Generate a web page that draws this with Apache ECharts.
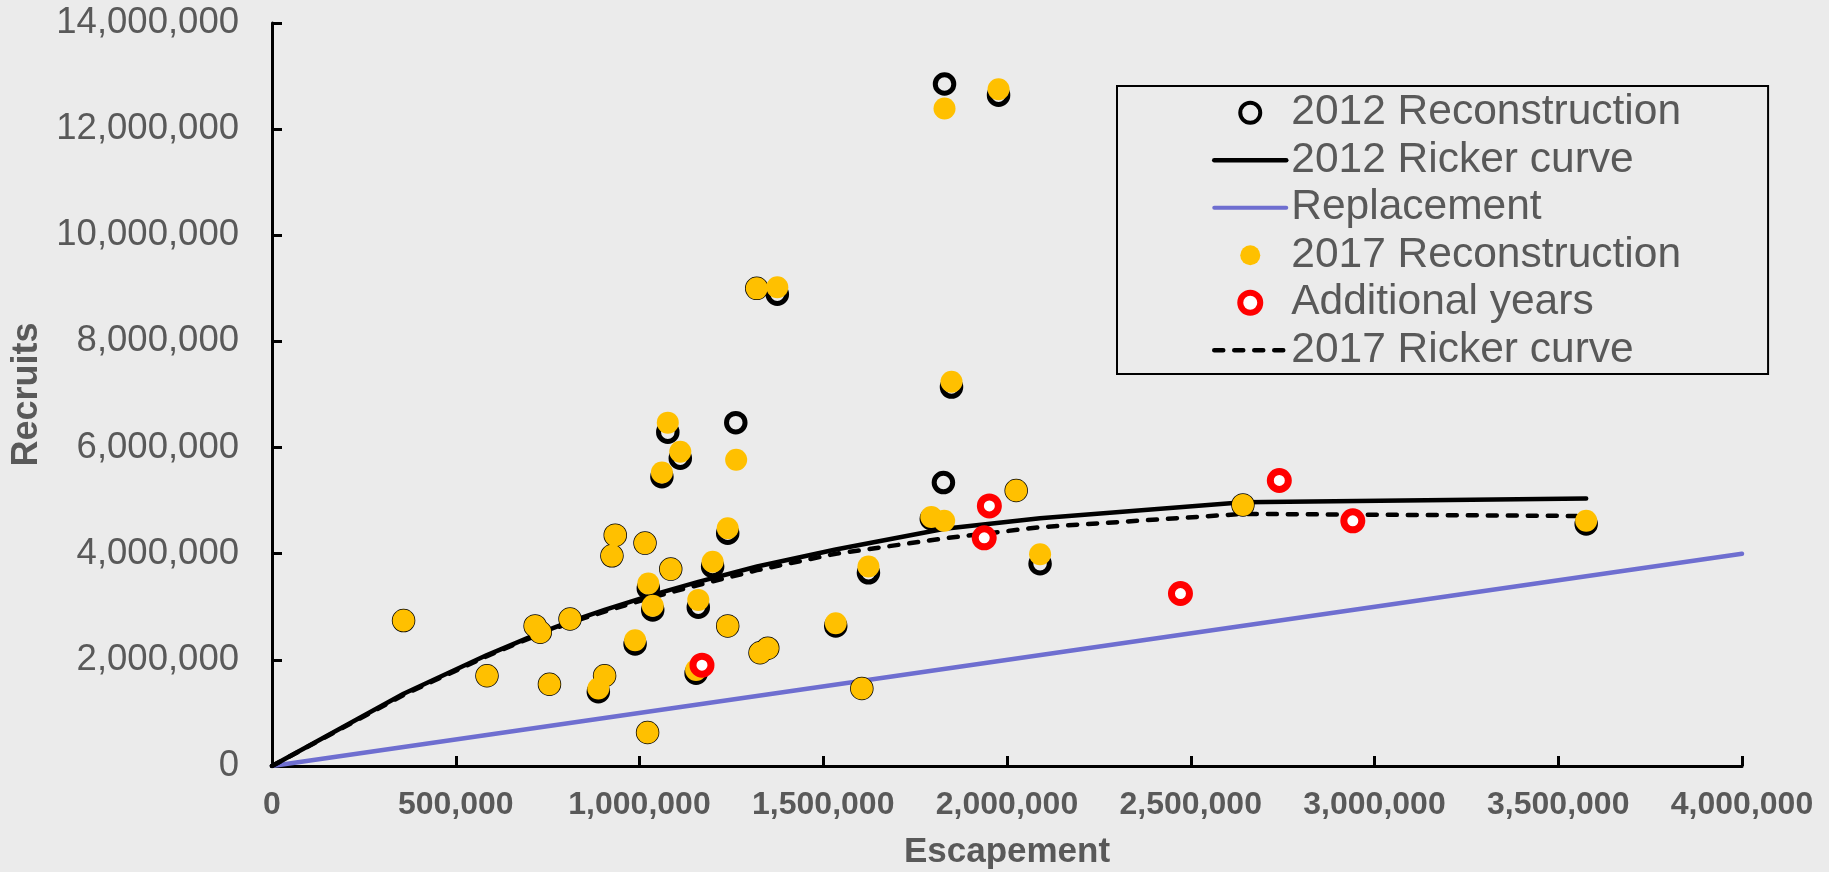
<!DOCTYPE html>
<html>
<head>
<meta charset="utf-8">
<script src="https://cdn.jsdelivr.net/npm/echarts@6/dist/echarts.min.js"></script>
<style>
html,body{margin:0;padding:0;background:#EBEBEB;}
#chart{width:1829px;height:872px;}
</style>
</head>
<body>
<div id="chart"></div>
<script>
// Escapement (x) and recruits (y)
const rec2012 = [
  [358000,2740000],[585000,1700000],[716000,2640000],[730000,2520000],[755000,1540000],
  [811000,2770000],[888000,1400000],[905000,1700000],[925000,3960000],[934000,4350000],
  [988000,2300000],[1015000,4200000],[1022000,630000],[1024000,3350000],[1036000,2940000],
  [1061000,5450000],[1077000,6290000],[1085000,3710000],[1111000,5800000],[1154000,1750000],
  [1160000,2990000],[1199000,3760000],[1240000,4385000],[1240000,2640000],[1262000,6470000],
  [1319000,9000000],[1328000,2135000],[1349000,2220000],[1375000,8890000],[1534000,2640000],
  [1605000,1460000],[1623000,3640000],[1794000,4660000],[1827000,5340000],[1830000,12850000],
  [1849000,7140000],[1977000,12640000],[2025000,5190000],[2090000,3810000],[2642000,4920000],
  [3576000,4560000]
];
const rec2017 = [
  [358000,2740000],[585000,1700000],[716000,2640000],[730000,2520000],[755000,1540000],
  [811000,2770000],[888000,1460000],[905000,1700000],[925000,3960000],[934000,4350000],
  [988000,2370000],[1015000,4200000],[1022000,630000],[1024000,3440000],[1036000,3020000],
  [1061000,5530000],[1077000,6470000],[1085000,3710000],[1111000,5920000],[1154000,1810000],
  [1160000,3130000],[1199000,3850000],[1240000,4480000],[1240000,2640000],[1263000,5770000],
  [1319000,9000000],[1328000,2135000],[1349000,2220000],[1375000,9020000],[1534000,2690000],
  [1605000,1460000],[1623000,3760000],[1794000,4690000],[1829000,4620000],[1830000,12390000],
  [1849000,7240000],[1977000,12750000],[2025000,5190000],[2090000,3990000],[2642000,4920000],
  [3576000,4620000]
];
const additionalYears = [
  [1170000,1900000],[1938000,4300000],[1952000,4900000],[2472000,3250000],[2741000,5380000],[2941000,4620000]
];
const curveX = [0,358000,585000,716000,811000,905000,1024000,1160000,1320000,1534000,1830000,2090000,2642000,3576000];
const ricker2012Y = [0,1360000,2090000,2470000,2720000,2940000,3200000,3470000,3760000,4080000,4470000,4670000,4970000,5040000];
const ricker2017Y = [0,1340000,2070000,2450000,2700000,2910000,3160000,3410000,3690000,4000000,4290000,4500000,4750000,4710000];
const replacementX = [0,4000000];
const replacementY = [0,4000000];

const zip = (xs, ys) => xs.map((x, i) => [x, ys[i]]);
const fmt = v => Number(v).toLocaleString('en-US');
const FONT = 'Liberation Sans, Arial, sans-serif';
const GREY = '#595959';
const noSymbol = { color: 'rgba(0,0,0,0)', borderWidth: 0, borderColor: 'rgba(0,0,0,0)' };

const chart = echarts.init(document.getElementById('chart'));
chart.setOption({
  animation: false,
  backgroundColor: '#EBEBEB',
  textStyle: { fontFamily: FONT },
  grid: { left: 272, right: 87, top: 23, bottom: 106, containLabel: false, outerBoundsMode: 'none' },
  legend: {
    orient: 'vertical',
    left: 1117, top: 86,
    padding: [3, 87, 0, 95],
    itemGap: 0,
    itemWidth: 72,
    itemHeight: 20,
    borderColor: '#000',
    borderWidth: 2,
    textStyle: { fontSize: 42.5, lineHeight: 47.5, color: GREY, fontFamily: FONT },
    data: [
      { name: '2012 Reconstruction', itemStyle: { borderWidth: 4 } },
      { name: '2012 Ricker curve', lineStyle: { width: 4.5 }, itemStyle: noSymbol },
      { name: 'Replacement', lineStyle: { width: 4 }, itemStyle: noSymbol },
      { name: '2017 Reconstruction', itemStyle: { borderWidth: 0 } },
      { name: 'Additional years', itemStyle: { borderWidth: 6 } },
      { name: '2017 Ricker curve', lineStyle: { width: 4.5 }, itemStyle: noSymbol }
    ]
  },
  xAxis: {
    type: 'value', min: 0, max: 4000000, interval: 500000,
    name: 'Escapement', nameLocation: 'middle', nameGap: 69,
    nameTextStyle: { fontSize: 35, fontWeight: 'bold', color: GREY, fontFamily: FONT },
    axisLine: { show: true, lineStyle: { color: '#000', width: 3 } },
    axisTick: { show: true, inside: true, length: 10, lineStyle: { color: '#000', width: 3 } },
    axisLabel: { formatter: fmt, fontSize: 32, fontWeight: 'bold', color: GREY, margin: 23, fontFamily: FONT },
    splitLine: { show: false }
  },
  yAxis: {
    type: 'value', min: 0, max: 14000000, interval: 2000000,
    name: 'Recruits', nameLocation: 'middle', nameGap: 226,
    nameTextStyle: { fontSize: 36, fontWeight: 'bold', color: GREY, fontFamily: FONT },
    axisLine: { show: true, lineStyle: { color: '#000', width: 3 } },
    axisTick: { show: true, inside: true, length: 10, lineStyle: { color: '#000', width: 3 } },
    axisLabel: { formatter: fmt, fontSize: 36.5, color: GREY, margin: 33, fontFamily: FONT },
    splitLine: { show: false }
  },
  series: [
    {
      name: 'Replacement', type: 'line', data: zip(replacementX, replacementY),
      symbol: 'none', lineStyle: { color: '#6E6ED0', width: 4.5, cap: 'round' }, itemStyle: { color: '#6E6ED0' }, z: 1
    },
    {
      name: '2012 Ricker curve', type: 'line', data: zip(curveX, ricker2012Y),
      symbol: 'none', lineStyle: { color: '#000', width: 4.5, cap: 'round', join: 'round' }, itemStyle: { color: '#000' }, z: 2
    },
    {
      name: '2017 Ricker curve', type: 'line', data: zip(curveX, ricker2017Y),
      symbol: 'none', lineStyle: { color: '#000', width: 4.5, type: [9, 11], cap: 'round' }, itemStyle: { color: '#000' }, z: 2
    },
    {
      name: '2012 Reconstruction', type: 'scatter', data: rec2012,
      symbol: 'circle', symbolSize: 18.5,
      itemStyle: { color: 'rgba(0,0,0,0)', borderColor: '#000', borderWidth: 5, opacity: 1 }, z: 3
    },
    {
      name: '2017 Reconstruction', type: 'scatter', data: rec2017,
      symbol: 'circle', symbolSize: 22,
      itemStyle: { color: '#FFC000', borderWidth: 0, opacity: 1 }, z: 4
    },
    {
      name: 'Additional years', type: 'scatter', data: additionalYears,
      symbol: 'circle', symbolSize: 18,
      itemStyle: { color: '#FFFFFF', borderColor: '#FF0000', borderWidth: 7, opacity: 1 }, z: 5
    }
  ]
});
</script>
</body>
</html>
